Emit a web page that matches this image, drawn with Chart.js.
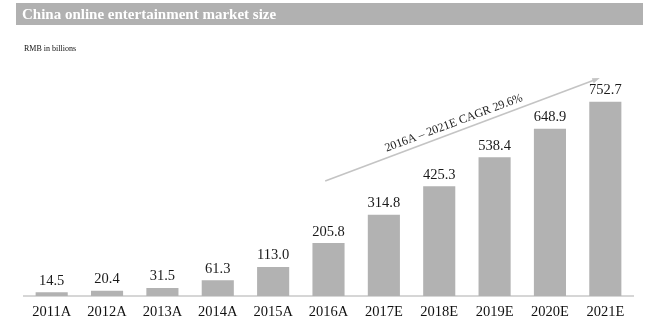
<!DOCTYPE html>
<html>
<head>
<meta charset="utf-8">
<script src="https://cdn.jsdelivr.net/npm/chart.js@4/dist/chart.umd.min.js"></script>
<style>
  html, body { margin: 0; padding: 0; background: #fff; }
  #wrap { position: relative; width: 654px; height: 330px; }
</style>
</head>
<body>
<div id="wrap"><canvas id="market-chart" width="654" height="330"></canvas></div>
<script>
const years = ["2011A", "2012A", "2013A", "2014A", "2015A", "2016A", "2017E", "2018E", "2019E", "2020E", "2021E"];
const marketSize = [14.5, 20.4, 31.5, 61.3, 113.0, 205.8, 314.8, 425.3, 538.4, 648.9, 752.7];

const chartTitle = "China online entertainment market size";
const unitLabel = "RMB in billions";
const cagrLabel = "2016A \u2013 2021E CAGR 29.6%";
// arrow ends as [category index, value]
const cagrFrom = [4.94, 446];
const cagrTo = [9.9, 845];

const serif = "'Liberation Serif', 'Times New Roman', serif";

// grey header strip, unit note, value labels and CAGR arrow
const decorations = {
    id: 'decorations',
    afterDatasetsDraw(chart) {
        const ctx = chart.ctx;
        const x = chart.scales.x;
        const y = chart.scales.y;

        ctx.save();
        ctx.fillStyle = "#b1b1b1";
        ctx.fillRect(16, 3, 627, 22);
        ctx.fillStyle = "#ffffff";
        ctx.font = "bold 15px " + serif;
        ctx.textBaseline = "middle";
        ctx.textAlign = "left";
        ctx.fillText(chartTitle, 22, 15);

        ctx.fillStyle = "#111";
        ctx.font = "8px " + serif;
        ctx.fillText(unitLabel, 24, 49);

        // values above bars
        const meta = chart.getDatasetMeta(0);
        ctx.font = "14.5px " + serif;
        ctx.textAlign = "center";
        ctx.textBaseline = "bottom";
        ctx.fillStyle = "#1a1a1a";
        meta.data.forEach((bar, i) => {
            ctx.fillText(marketSize[i].toFixed(1), bar.x, bar.y - 4);
        });

        // CAGR arrow
        const x1 = x.getPixelForValue(cagrFrom[0]);
        const y1 = y.getPixelForValue(cagrFrom[1]);
        const x2 = x.getPixelForValue(cagrTo[0]);
        const y2 = y.getPixelForValue(cagrTo[1]);
        const angle = Math.atan2(y2 - y1, x2 - x1);

        ctx.strokeStyle = "#c4c4c4";
        ctx.fillStyle = "#c4c4c4";
        ctx.lineWidth = 1.6;
        ctx.beginPath();
        ctx.moveTo(x1, y1);
        ctx.lineTo(x2 - 5 * Math.cos(angle), y2 - 5 * Math.sin(angle));
        ctx.stroke();
        ctx.beginPath();
        ctx.moveTo(x2, y2);
        ctx.lineTo(x2 - 8 * Math.cos(angle - 0.35), y2 - 8 * Math.sin(angle - 0.35));
        ctx.lineTo(x2 - 8 * Math.cos(angle + 0.35), y2 - 8 * Math.sin(angle + 0.35));
        ctx.closePath();
        ctx.fill();

        const t = 0.48;
        const mx = x1 + (x2 - x1) * t;
        const my = y1 + (y2 - y1) * t;
        ctx.translate(mx, my);
        ctx.rotate(angle);
        ctx.fillStyle = "#1a1a1a";
        ctx.font = "12px " + serif;
        ctx.textAlign = "center";
        ctx.textBaseline = "middle";
        ctx.fillText(cagrLabel, 0, -9);
        ctx.restore();
    }
};

const ctx = document.getElementById("market-chart").getContext("2d");

new Chart(ctx, {
    type: 'bar',
    data: {
        labels: years,
        datasets: [{
            data: marketSize,
            backgroundColor: '#b2b2b2',
            borderWidth: 0,
            categoryPercentage: 1,
            barPercentage: 0.58
        }]
    },
    options: {
        responsive: false,
        animation: false,
        layout: {
            padding: { left: 24, right: 21, top: 60, bottom: 2 }
        },
        plugins: {
            legend: { display: false },
            tooltip: { enabled: false }
        },
        scales: {
            x: {
                grid: { display: false, drawTicks: false },
                border: { display: true, color: '#d6d6d6', width: 2 },
                ticks: {
                    color: '#111',
                    padding: 8,
                    font: { family: serif, size: 14.5, lineHeight: 1.1 }
                }
            },
            y: {
                display: false,
                min: 0,
                max: 915
            }
        }
    },
    plugins: [decorations]
});
</script>
</body>
</html>
